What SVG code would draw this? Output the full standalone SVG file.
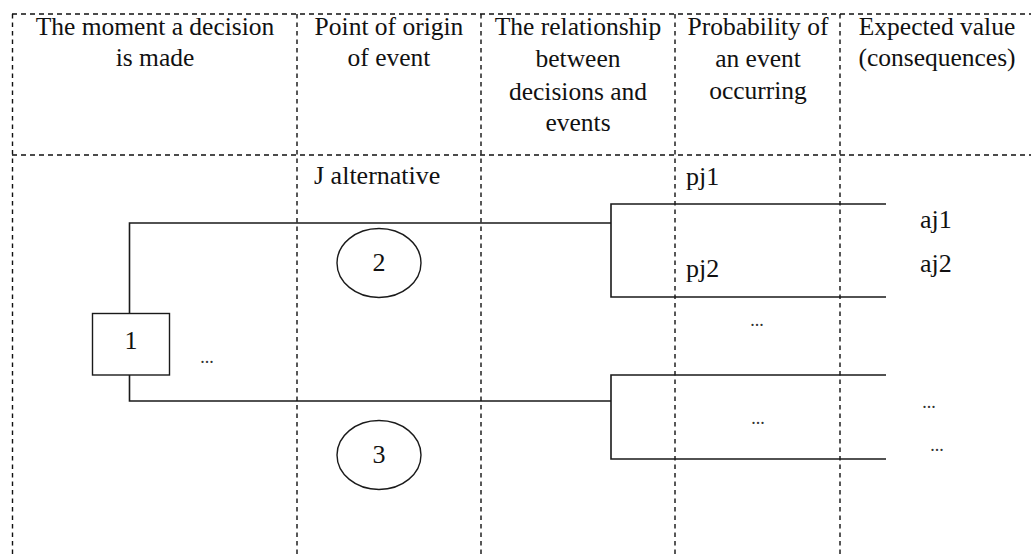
<svg xmlns="http://www.w3.org/2000/svg" width="1031" height="554" viewBox="0 0 1031 554">
<style>
.bg{fill:#ffffff}
.grid{stroke:#111;stroke-width:1.4;fill:none}
.h{stroke-dasharray:5 4}
.v{stroke-dasharray:4.5 4}
.ln{stroke:#1a1a1a;stroke-width:1.6;fill:none}
.shape{stroke:#1a1a1a;stroke-width:1.4;fill:#fff}
text{font-family:"Liberation Serif","Times New Roman",serif;font-size:25.5px;fill:#111}
.hd{text-anchor:middle}
.c{text-anchor:middle}
.body{font-size:26px}
.dots{font-size:18px;fill:#333}
</style>
<rect class="bg" x="0" y="0" width="1031" height="554"/>
<g id="grid">
<line class="grid h" x1="12" y1="14" x2="1031" y2="14"/>
<line class="grid h" x1="12" y1="155" x2="1031" y2="155"/>
<line class="grid v" x1="12.5" y1="14" x2="12.5" y2="554"/>
<line class="grid v" x1="297" y1="14" x2="297" y2="554"/>
<line class="grid v" x1="481" y1="14" x2="481" y2="554"/>
<line class="grid v" x1="675" y1="14" x2="675" y2="554"/>
<line class="grid v" x1="840" y1="14" x2="840" y2="554"/>
</g>
<g id="headers">
<text class="hd" x="155" y="35">The moment a decision</text>
<text class="hd" x="155" y="66">is made</text>
<text class="hd" x="389" y="35">Point of origin</text>
<text class="hd" x="389" y="66">of event</text>
<text class="hd" x="578" y="35">The relationship</text>
<text class="hd" x="578" y="67">between</text>
<text class="hd" x="578" y="100">decisions and</text>
<text class="hd" x="578" y="131">events</text>
<text class="hd" x="758" y="35">Probability of</text>
<text class="hd" x="758" y="67">an event</text>
<text class="hd" x="758" y="99">occurring</text>
<text class="hd" x="937" y="35">Expected value</text>
<text class="hd" x="937" y="66">(consequences)</text>
</g>
<g id="connectors">
<polyline class="ln" points="129.5,313 129.5,223 611,223"/>
<polyline class="ln" points="129.5,375 129.5,401 611,401"/>
<polyline class="ln" points="886,204 611,204 611,297 886,297"/>
<polyline class="ln" points="886,375 611,375 611,459 886,459"/>
</g>
<g id="node1">
<rect class="shape" x="92.5" y="313.5" width="77" height="61.5"/>
<text class="c body" x="131" y="349">1</text>
</g>
<g id="node2">
<ellipse class="shape" cx="379" cy="263" rx="42" ry="34.5"/>
<text class="c body" x="379" y="271">2</text>
</g>
<g id="node3">
<ellipse class="shape" cx="379" cy="455" rx="42" ry="34.5"/>
<text class="c body" x="379" y="463">3</text>
</g>
<g id="labels">
<text class="body" x="314" y="184">J alternative</text>
<text class="body" x="686" y="185">pj1</text>
<text class="body" x="686" y="277">pj2</text>
<text class="body" x="920" y="228">aj1</text>
<text class="body" x="920" y="272">aj2</text>
<text class="dots c" x="207" y="363">...</text>
<text class="dots c" x="757" y="326">...</text>
<text class="dots c" x="758" y="424">...</text>
<text class="dots c" x="929" y="408">...</text>
<text class="dots c" x="937" y="451">...</text>
</g>
</svg>
